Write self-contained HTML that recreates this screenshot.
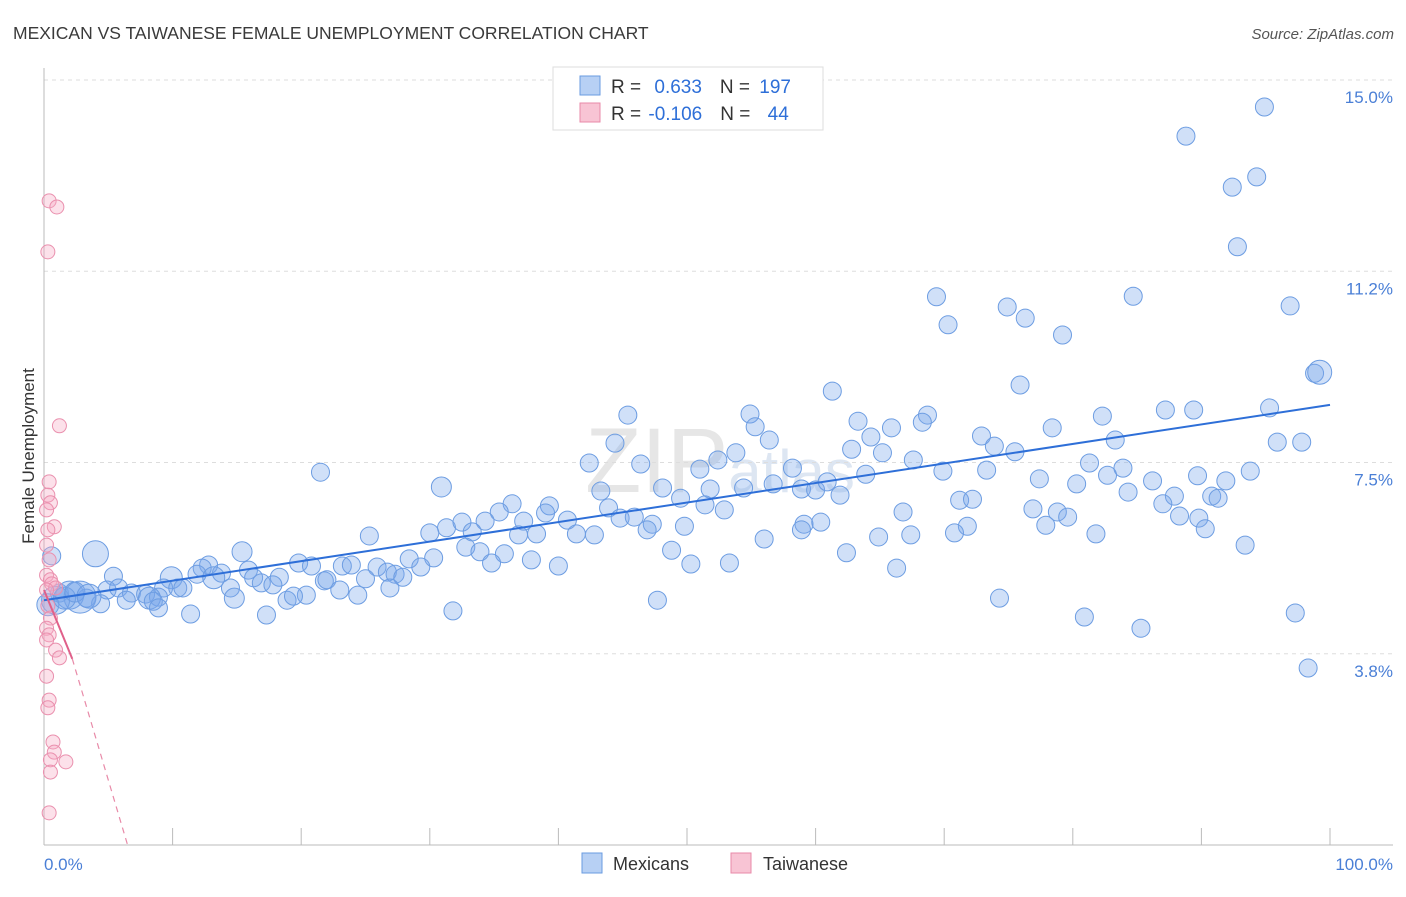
<!DOCTYPE html>
<html><head><meta charset="utf-8"><style>
body{margin:0;background:#fff;font-family:"Liberation Sans",sans-serif;}
svg text{font-family:"Liberation Sans",sans-serif;}
</style></head><body>
<svg id="chart" width="1406" height="892" xmlns="http://www.w3.org/2000/svg">
<text x="13" y="39" font-size="17.5" fill="#3a3a3a">MEXICAN VS TAIWANESE FEMALE UNEMPLOYMENT CORRELATION CHART</text>
<text x="1394" y="39" font-size="15" fill="#555" font-style="italic" text-anchor="end">Source: ZipAtlas.com</text>
<text x="720" y="492" font-size="92" fill="#e6e6e6" text-anchor="middle" font-family="Liberation Serif">ZIP<tspan font-size="60" fill="#dde6f2" font-family="Liberation Sans">atlas</tspan></text>
<g id="grid"></g>
<g id="axes"></g>
<g id="pts"></g>
<g id="trend"></g>
<text transform="translate(34,456) rotate(-90)" font-size="17" fill="#333" text-anchor="middle">Female Unemployment</text>
<text x="44" y="870" font-size="17" fill="#4a7fd6">0.0%</text>
<text x="1393" y="870" font-size="17" fill="#4a7fd6" text-anchor="end">100.0%</text>
<g>
<rect x="553" y="67" width="270" height="63" fill="#fff" stroke="#ddd"/>
<rect x="580" y="76" width="20" height="19" fill="#b7d0f4" stroke="#6a9be0"/>
<rect x="580" y="103" width="20" height="19" fill="#f8c4d4" stroke="#e88aa8"/>
<text x="611" y="93" font-size="19" fill="#333">R = <tspan fill="#2e6fd8" dx="8">0.633</tspan><tspan fill="#333" dx="18">N = </tspan><tspan fill="#2e6fd8" dx="4">197</tspan></text>
<text x="611" y="120" font-size="19" fill="#333">R = <tspan fill="#2e6fd8" dx="2">-0.106</tspan><tspan fill="#333" dx="18">N = </tspan><tspan fill="#2e6fd8" dx="12">44</tspan></text>
</g>
<g>
<rect x="582" y="853" width="20" height="20" fill="#b7d0f4" stroke="#6a9be0"/>
<text x="613" y="870" font-size="18" fill="#333">Mexicans</text>
<rect x="731" y="853" width="20" height="20" fill="#f8c4d4" stroke="#e88aa8"/>
<text x="763" y="870" font-size="18" fill="#333">Taiwanese</text>
</g>
</svg>
<script>
const yTicks=[3.75,7.5,11.25,15];
const yTickLabels=["3.8%","7.5%","11.2%","15.0%"];
const xTicks=[0,10,20,30,40,50,60,70,80,90,100];
const mexX=[94.9,88.8,92.4,94.3,92.8,69.4,70.3,74.9,76.3,79.2,84.7,96.9,98.8,75.9,61.3,45.4,54.9,63.3,68.7,68.3,82.3,87.2,89.4,95.3,55.3,65.9,78.4,83.3,95.9,97.8,72.9,44.4,56.4,64.3,73.9,75.5,53.8,62.8,42.4,46.4,52.4,65.2,67.6,21.5,51.0,58.2,63.9,69.9,73.3,81.3,83.9,82.7,93.8,30.9,43.3,48.1,51.8,54.4,56.7,58.9,60.0,60.9,61.9,77.4,80.3,86.2,89.7,91.9,84.3,87.9,90.8,91.3,49.5,71.2,72.2,36.4,39.3,43.9,51.4,52.9,35.4,66.8,76.9,78.8,87.0,79.6,88.3,89.8,31.3,32.5,34.3,37.3,40.7,39.0,44.8,45.9,47.3,49.8,59.1,60.4,71.8,77.9,90.3,25.3,30.0,33.3,36.9,38.3,41.4,42.8,46.9,56.0,58.9,64.9,67.4,70.8,81.8,93.4,4.0,15.4,32.8,33.9,35.8,48.8,62.4,28.4,30.3,19.8,20.8,23.2,23.9,25.9,29.3,34.8,37.9,40.0,50.3,53.3,66.3,12.8,12.3,15.9,13.8,26.7,27.3,27.9,5.4,9.9,11.9,13.2,16.3,18.3,21.8,25.0,16.9,17.8,22.0,9.3,10.4,10.8,14.5,23.0,26.9,4.9,5.8,6.8,7.9,8.9,3.3,4.4,6.4,8.2,8.5,14.8,18.9,20.4,24.4,19.4,47.7,74.3,8.9,11.4,17.3,31.8,80.9,97.3,85.3,98.3,0.6,1.2,2.0,2.8,0.9,0.3,1.6,2.4,3.5,99.2];
const mexY=[14.47,13.90,12.90,13.10,11.73,10.75,10.20,10.55,10.33,10.00,10.76,10.57,9.25,9.02,8.90,8.43,8.45,8.31,8.43,8.29,8.41,8.53,8.53,8.57,8.20,8.18,8.18,7.94,7.90,7.90,8.02,7.88,7.94,8.00,7.82,7.71,7.69,7.76,7.49,7.47,7.55,7.69,7.55,7.31,7.37,7.39,7.27,7.33,7.35,7.49,7.39,7.25,7.33,7.02,6.94,7.00,6.98,7.00,7.08,6.98,6.96,7.12,6.86,7.18,7.08,7.14,7.24,7.14,6.92,6.84,6.84,6.80,6.80,6.76,6.78,6.69,6.65,6.61,6.67,6.57,6.53,6.53,6.59,6.53,6.69,6.43,6.45,6.41,6.22,6.33,6.35,6.35,6.37,6.51,6.41,6.43,6.29,6.25,6.29,6.33,6.25,6.27,6.20,6.06,6.12,6.14,6.08,6.10,6.10,6.08,6.18,6.00,6.18,6.04,6.08,6.12,6.10,5.88,5.71,5.75,5.84,5.75,5.71,5.78,5.73,5.61,5.63,5.53,5.47,5.47,5.49,5.45,5.45,5.53,5.59,5.47,5.51,5.53,5.43,5.49,5.43,5.39,5.33,5.35,5.31,5.25,5.27,5.24,5.31,5.24,5.24,5.25,5.18,5.22,5.14,5.10,5.20,5.04,5.04,5.04,5.04,5.00,5.04,5.00,5.04,4.94,4.92,4.86,4.84,4.73,4.80,4.84,4.78,4.84,4.80,4.90,4.90,4.88,4.80,4.84,4.65,4.53,4.51,4.59,4.47,4.55,4.25,3.47,5.67,4.94,4.90,4.86,4.80,4.71,4.84,4.96,4.88,9.27];
const mexR=[9,9,9,9,9,9,9,9,9,9,9,9,9,9,9,9,9,9,9,9,9,9,9,9,9,9,9,9,9,9,9,9,9,9,9,9,9,9,9,9,9,9,9,9,9,9,9,9,9,9,9,9,9,10,9,9,9,9,9,9,9,9,9,9,9,9,9,9,9,9,9,9,9,9,9,9,9,9,9,9,9,9,9,9,9,9,9,9,9,9,9,9,9,9,9,9,9,9,9,9,9,9,9,9,9,9,9,9,9,9,9,9,9,9,9,9,9,9,13,10,9,9,9,9,9,9,9,9,9,9,9,9,9,9,9,9,9,9,9,9,9,9,9,9,9,9,9,11,9,11,9,9,9,9,9,9,9,9,9,9,9,9,9,9,9,9,9,9,9,9,9,11,9,10,9,9,9,9,9,9,9,9,9,9,9,9,9,9,9,9,14,16,14,11,11,10,12,12,10,9];
const taiX=[0.4,1.0,0.3,1.2,0.4,0.3,0.5,0.2,0.8,0.3,0.2,0.4,0.2,0.5,0.6,0.9,0.2,0.3,0.5,0.2,0.4,0.2,0.9,1.2,0.2,0.4,0.3,0.7,0.8,0.5,1.7,0.5,0.4];
const taiY=[12.63,12.51,11.63,8.22,7.12,6.86,6.71,6.57,6.24,6.18,5.88,5.59,5.29,5.20,5.12,5.04,5.00,4.69,4.45,4.25,4.12,4.02,3.82,3.67,3.31,2.84,2.69,2.02,1.82,1.67,1.63,1.43,0.63];
const mexTrend=[4.8,8.63];
const taiTrend=[5.0,3.65,0];
const taiTrendX=[0,2.2,6.5];
const NS='http://www.w3.org/2000/svg';
const X0=44,X1=1330,Y0=845,PPY=51;
function xs(v){return X0+(X1-X0)*v/100;}
function ys(v){return Y0-v*PPY;}
function mk(t,a,p){const e=document.createElementNS(NS,t);for(const k in a)e.setAttribute(k,a[k]);p.appendChild(e);return e;}
const grid=document.getElementById('grid'),axes=document.getElementById('axes'),pts=document.getElementById('pts'),tr=document.getElementById('trend');
yTicks.forEach((v,i)=>{
 const l=mk('line',{x1:44,x2:1393,y1:ys(v),y2:ys(v),stroke:'#ddd','stroke-dasharray':'4,4'},grid);
 
 
 const t=mk('text',{x:1393,y:ys(v)+23,'font-size':17,fill:'#4a7fd6','text-anchor':'end'},grid);
 t.textContent=yTickLabels[i];
 
 
});
const ya=mk('line',{x1:44,x2:44,y1:68,y2:845,stroke:'#bbb'},axes);


const xa=mk('line',{x1:44,x2:1393,y1:845,y2:845,stroke:'#bbb'},axes);


xTicks.forEach(v=>{
 const l=mk('line',{x1:xs(v),x2:xs(v),y1:828,y2:845,stroke:'#bbb'},axes);
 
 
});
mexX.forEach((v,i)=>{
 const c=mk('circle',{cx:xs(v),cy:ys(mexY[i]),r:mexR[i]||9,fill:'rgba(120,165,235,0.35)',stroke:'#6d9de2','stroke-width':1},pts);
 
 
});
taiX.forEach((v,i)=>{
 const c=mk('circle',{cx:xs(v),cy:ys(taiY[i]),r:7,fill:'rgba(245,170,195,0.35)',stroke:'#ea90ae','stroke-width':1},pts);
 
 
});
const bl=mk('line',{x1:xs(0),y1:ys(mexTrend[0]),x2:xs(100),y2:ys(mexTrend[1]),stroke:'#2e6fd8','stroke-width':2},tr);


const pl=mk('line',{x1:xs(taiTrendX[0]),y1:ys(taiTrend[0]),x2:xs(taiTrendX[1]),y2:ys(taiTrend[1]),stroke:'#e0608a','stroke-width':2},tr);


const pd=mk('line',{x1:xs(taiTrendX[1]),y1:ys(taiTrend[1]),x2:xs(taiTrendX[2]),y2:ys(taiTrend[2]),stroke:'#e88aa8','stroke-width':1.2,'stroke-dasharray':'6,5'},tr);


</script>
</body></html>
